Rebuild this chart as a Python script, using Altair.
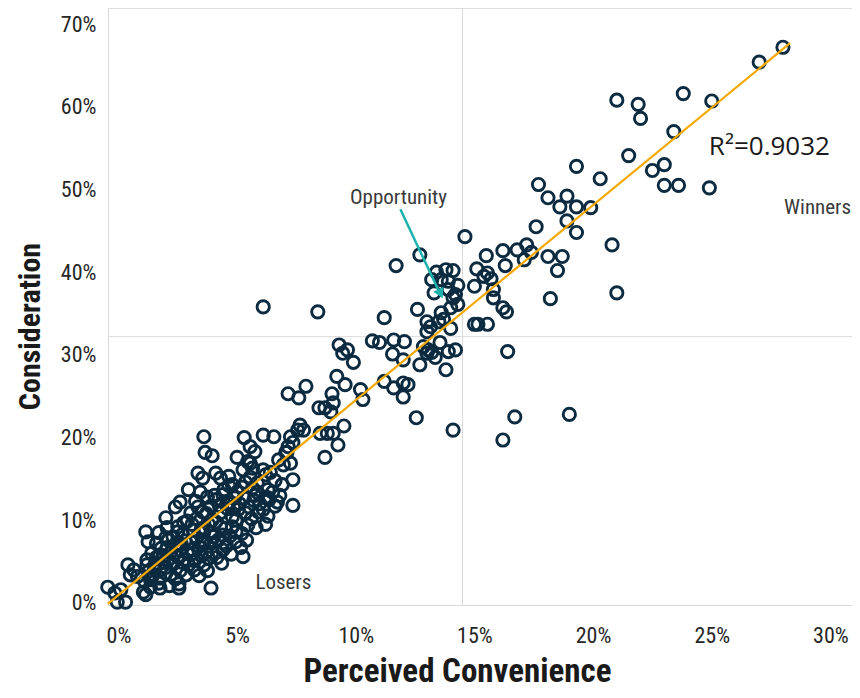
import altair as alt
import pandas as pd

# ---------------- data (percent units) ----------------
winners_pts = [(28.0,67.2),(27.0,65.4),(21.0,60.8),(21.9,60.3),(22.0,58.6),(23.8,61.6),(25.0,60.7),
               (23.4,57.0),(21.5,54.1),(19.3,52.8),(20.3,51.3),(22.5,52.3),(23.0,53.0),(23.0,50.5),
               (23.6,50.5),(24.9,50.2),(17.7,50.6),(18.1,49.0),(18.6,47.9),(18.9,49.2),(19.3,47.9),
               (19.9,47.8),(18.9,46.2),(19.3,44.8),(17.6,45.5),(20.8,43.3),(17.2,43.3),(17.4,42.4),
               (17.1,41.5),(18.1,41.9),(18.7,41.9),(18.5,40.2),(18.2,36.8),(21.0,37.5),(19.0,22.8),
               (16.7,22.5),(16.2,19.7)]

middle_pts = [(14.6,44.3),(12.7,42.1),(11.7,40.8),(15.5,42.0),(16.2,42.6),(16.8,42.7),(16.3,40.8),
              (15.1,40.4),(15.4,39.5),(15.7,39.2),(15.55,39.9),(15.0,38.3),(15.8,37.9),(15.8,36.9),
              (16.2,35.7),(16.35,35.2),(15.0,33.7),(15.15,33.7),(15.55,33.7),(13.4,40.0),(13.8,40.3),
              (14.1,40.2),(13.2,39.1),(13.6,39.1),(13.9,38.9),(14.3,38.4),(13.3,37.5),(13.9,37.9),
              (14.1,36.9),(14.2,37.3),(14.0,35.7),(14.3,36.1),(13.6,35.1),(12.6,35.5),(13.0,34.0),
              (13.15,33.4),(13.0,32.8),(13.5,34.0),(13.7,34.3),(14.0,33.2),(11.2,34.5),(9.65,30.6),
              (9.9,29.1),(9.3,31.2),(9.45,30.2),(10.7,31.7),(11.0,31.5),(11.6,31.8),(12.05,31.6),
              (11.55,30.1),(12.0,29.4),(12.7,28.8),(12.85,31.0),(13.05,30.6),(13.2,30.3),(13.0,30.2),
              (13.55,31.5),(13.9,30.4),(14.2,30.6),(13.35,29.7),(13.8,28.2),(16.4,30.4),(11.2,26.8),
              (11.6,26.0),(12.0,26.6),(12.2,26.4),(12.0,24.9),(10.2,25.8),(10.3,24.6),(12.55,22.4),
              (14.1,20.9),(9.5,21.4)]

lower_mid_pts = [(6.1,35.8),(8.4,35.2),(9.2,27.4),(9.55,26.4),(7.15,25.3),(7.6,24.8),(7.9,26.2),
                 (9.0,25.3),(9.05,24.2),(8.45,23.6),(8.7,23.6),(8.95,23.1),(7.65,21.5),(7.8,20.9),
                 (7.55,20.9),(7.25,20.1),(7.15,18.9),(7.05,18.2),(7.35,19.4),(8.5,20.5),(8.8,20.5),
                 (9.05,20.5),(9.25,19.1),(8.7,17.6),(7.35,14.9),(7.35,11.8),(6.1,20.3),(6.55,20.1),
                 (5.3,20.0),(5.55,18.9),(5.75,18.3),(6.75,17.3),(6.95,16.7),(7.1,18.2),(7.25,16.9),
                 (6.1,16.1),(6.2,15.5),(5.85,14.5),(6.3,13.7),(6.3,12.7),(5.0,17.6),(5.25,16.1),
                 (5.55,16.9)]

low_pts = [(3.6,20.1),(3.65,18.2),(3.95,17.8),(5.45,17.1),(5.65,16.3),(3.35,15.7),(3.55,15.1),
           (4.1,15.7),(4.3,15.1),(2.95,13.7),(2.6,12.2),(2.4,11.6),(4.8,14.3),(5.0,13.4),(5.2,14.0),
           (5.65,13.9),(5.85,13.4),(3.75,12.8),(4.1,12.5),(4.4,13.1),(4.6,12.1),(3.35,11.6),
           (3.55,11.0),(3.05,10.9),(5.05,11.3),(5.35,10.9),(4.95,10.0),(5.45,9.4),(3.95,10.0),
           (4.3,9.2),(3.9,8.5),(4.4,8.2),(4.8,9.2),(2.75,9.7),(2.5,8.6),(3.15,8.8),(4.95,7.4),
           (4.4,7.3),(4.0,8.0),(3.6,7.3),(3.05,7.4),(4.65,15.3),(6.2,12.8),(6.35,12.5),
           (2.0,10.3),(2.05,9.1),(1.7,8.5),(1.15,8.6),(1.25,7.4),(0.65,4.0),(0.4,4.6),(0.5,3.4),
           (0.8,3.2),(-0.45,1.9),(-0.15,1.2),(0.1,1.6),(-0.05,0.1),(0.3,0.1),(1.15,1.0),(1.75,1.8),
           (2.55,1.8),(3.9,1.8),(1.05,1.3),(1.35,1.9),(2.0,7.9),(2.05,6.7),(1.75,5.8),(1.55,4.8),
           (1.75,4.0),(1.45,3.4),(1.75,3.0),(1.35,2.8)]

core_pts = [(1.2,5.2),(1.4,6.0),(1.6,5.5),(1.8,6.6),(1.3,3.9),(1.5,4.4),(1.9,4.9),(1.1,2.6),(1.7,2.4),
            (2.0,3.6),(1.2,4.6),(1.6,7.2),(1.9,5.7),(2.0,4.3),(1.4,3.1),
            (2.1,5.2),(2.2,6.1),(2.3,4.7),(2.4,7.0),(2.5,5.6),(2.6,6.4),(2.7,4.9),(2.8,7.5),(2.9,6.0),
            (2.2,3.4),(2.4,2.9),(2.6,3.9),(2.8,5.3),(2.3,8.0),(2.5,9.2),(2.7,8.3),(2.9,9.9),(2.1,7.6),
            (2.35,5.9),(2.65,7.1),(2.95,4.6),(2.55,2.3),(2.85,3.4),(2.15,2.1),
            (3.1,6.4),(3.2,5.1),(3.3,7.9),(3.4,6.8),(3.5,5.7),(3.6,8.6),(3.7,6.2),(3.8,9.5),(3.9,7.2),
            (3.2,4.0),(3.4,3.3),(3.6,4.6),(3.8,5.4),(3.1,9.5),(3.3,10.2),(3.5,9.0),(3.7,10.8),
            (3.9,11.7),(3.25,12.3),(3.45,13.4),(3.15,6.0),(3.55,7.6),(3.75,3.9),(3.95,6.1),
            (4.1,9.8),(4.2,7.6),(4.3,10.9),(4.4,6.4),(4.5,9.0),(4.6,11.4),(4.7,8.1),(4.8,10.4),
            (4.9,12.7),(4.15,5.5),(4.35,4.8),(4.55,6.9),(4.75,5.9),(4.95,8.6),(4.25,11.8),(4.45,13.7),
            (4.65,14.2),(4.85,11.6),(4.05,13.0),
            (5.1,12.0),(5.2,8.4),(5.3,12.7),(5.4,7.6),(5.5,11.6),(5.6,10.2),(5.7,12.4),(5.8,9.1),
            (5.9,11.0),(5.15,6.7),(5.35,14.6),(5.55,15.2),(5.75,13.0),(5.95,12.0),(5.25,5.6),
            (6.1,11.3),(6.3,10.5),(6.5,13.4),(6.7,12.2),(6.9,14.3),(6.4,15.8),(6.6,14.8),(6.8,13.0),
            (6.2,9.5),(6.6,11.7)]

x_tick_values = [0, 5, 10, 15, 20, 25, 30]
y_tick_values = [0, 10, 20, 30, 40, 50, 60, 70]
quadrant_x = [14.5]
quadrant_y = [32.2]

labels_txt = ["Opportunity", "Winners", "Losers"]
labels_x = [11.8, 29.46, 6.95]
labels_y = [49.0, 47.8, 2.4]

r2_text = ["R\u00b2=0.9032"]
r2_x = [27.43]
r2_y = [55.1]

arrow_x, arrow_y, arrow_x2, arrow_y2 = [11.88], [47.6], [13.47], [37.9]
arrow_head_x, arrow_head_y = [13.57], [37.4]

# ---------------- build ----------------
all_pts = winners_pts + middle_pts + lower_mid_pts + low_pts + core_pts
df = pd.DataFrame(all_pts, columns=["conv", "cons"])

NARROW = "Roboto Condensed, Liberation Sans Narrow, Roboto, Liberation Sans, sans-serif"
TXT = "#262626"
GRID = "#d9d9d9"

XS = alt.Scale(domain=[-0.44, 30.91], nice=False, zero=False)
YS = alt.Scale(domain=[-0.25, 71.95], nice=False, zero=False)

XAX = alt.Axis(values=x_tick_values, labelExpr="datum.value + '%'", title="Perceived Convenience",
               grid=False, ticks=False, domainColor=GRID, domainWidth=1,
               labelFont=NARROW, labelFontSize=22, labelColor=TXT, labelPadding=20,
               titleFont=NARROW, titleFontSize=33, titleFontWeight="bold", titleColor="#1a1a1a",
               titleBaseline="alphabetic", titleX=349, titleY=76, titleAlign="center")
YAX = alt.Axis(values=y_tick_values, labelExpr="datum.value + '%'", title="Consideration",
               grid=False, ticks=False, domainColor=GRID, domainWidth=1,
               labelFont=NARROW, labelFontSize=22, labelColor=TXT, labelPadding=12,
               titleFont=NARROW, titleFontSize=30, titleFontWeight="bold", titleColor="#1a1a1a",
               titleAngle=270, titleBaseline="alphabetic", titleX=-69, titleY=318, titleAlign="center")


def X(f):
    return alt.X(f, scale=XS, axis=XAX)


def Y(f):
    return alt.Y(f, scale=YS, axis=YAX)


vrule = alt.Chart(pd.DataFrame({"conv": quadrant_x})).mark_rule(color=GRID, strokeWidth=1).encode(x=X("conv:Q"))
hrule = alt.Chart(pd.DataFrame({"cons": quadrant_y})).mark_rule(color=GRID, strokeWidth=1).encode(y=Y("cons:Q"))

points = alt.Chart(df).mark_point(shape="circle", filled=False, size=150, strokeWidth=2.9,
                                  color="#0c2b40", opacity=1).encode(x=X("conv:Q"), y=Y("cons:Q"))

trend = alt.Chart(df).transform_regression(
    "conv", "cons", method="linear", extent=[-0.45, 28.3]
).mark_line(color="#f5a800", strokeWidth=2.2).encode(x=X("conv:Q"), y=Y("cons:Q"))

arrow_df = pd.DataFrame({"conv": arrow_x, "cons": arrow_y, "conv2": arrow_x2, "cons2": arrow_y2})
arrow = alt.Chart(arrow_df).mark_rule(color="#1db3ac", strokeWidth=2.5).encode(
    x=X("conv:Q"), y=Y("cons:Q"), x2="conv2:Q", y2="cons2:Q")
head = alt.Chart(pd.DataFrame({"conv": arrow_head_x, "cons": arrow_head_y})).mark_point(
    shape="triangle-down", filled=True, size=130, angle=334.5, color="#1db3ac", opacity=1
).encode(x=X("conv:Q"), y=Y("cons:Q"))

lab_df = pd.DataFrame({"conv": labels_x, "cons": labels_y, "t": labels_txt})
labels = alt.Chart(lab_df).mark_text(font=NARROW, fontSize=21, color="#3a3a3a", baseline="middle",
                                     align="center").encode(x=X("conv:Q"), y=Y("cons:Q"), text="t:N")

r2_df = pd.DataFrame({"conv": r2_x, "cons": r2_y, "t": r2_text})
r2 = alt.Chart(r2_df).mark_text(font="Open Sans", fontSize=26, color="#1a1a1a", baseline="middle",
                                align="center").encode(x=X("conv:Q"), y=Y("cons:Q"), text="t:N")

chart = alt.layer(vrule, hrule, points, trend, arrow, head, labels, r2).properties(
    width=744, height=597,
    autosize=alt.AutoSizeParams(type="none"),
    padding={"left": 100, "top": 0, "right": 0, "bottom": 84},
).configure_view(stroke=None).configure(background="white")

chart.save("out.html", embed_options={"renderer": "svg", "actions": False})
